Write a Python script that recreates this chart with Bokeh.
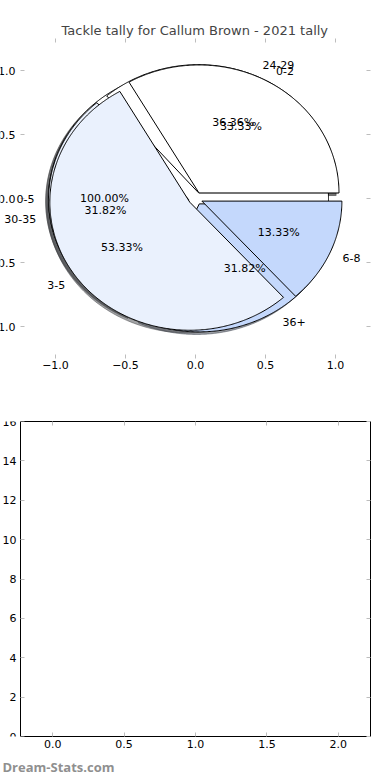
import numpy as np
from bokeh.plotting import figure
from bokeh.models import (ColumnDataSource, LinearAxis, Range1d, FixedTicker, Title,
                          CustomJSTickFormatter, Label)
from bokeh.layouts import column
from bokeh.embed import file_html
from bokeh.resources import INLINE

# ---------------- data ----------------
TITLE = "Tackle tally for Callum Brown - 2021 tally"
WATERMARK = "Dream-Stats.com"

# three pies drawn on the same axes (bottom to top)
pie_a_labels = ["0-5"]
pie_a_values = [1]
pie_b_labels = ["24-29", "30-35", "36+"]
pie_b_values = [8, 7, 7]
pie_c_labels = ["0-2", "3-5", "6-8"]
pie_c_values = [5, 8, 2]

wedge_colors = ["#ffffff", "#eaf1fd", "#c4d8fc"]
explode = 0.05

pie_ticks = [-1.0, -0.5, 0.0, 0.5, 1.0]
pie_tick_labels = ["\u22121.0", "\u22120.5", "0.0", "0.5", "1.0"]

bar_xticks = [0.0, 0.5, 1.0, 1.5, 2.0]
bar_xtick_labels = ["0.0", "0.5", "1.0", "1.5", "2.0"]
bar_yticks = [0, 2, 4, 6, 8, 10, 12, 14, 16]
bar_ytick_labels = ["0", "2", "4", "6", "8", "10", "12", "14", "16"]
bar_xlim = (-0.225, 2.225)
bar_ylim = (0, 16)

FONT = "DejaVu Sans"
TICK_GRAY = "#bdbdbd"


def hex_rgb(h):
    h = h.lstrip("#")
    return tuple(int(h[i:i + 2], 16) for i in (0, 2, 4))


def pie_parts(values, labels):
    v = np.asarray(values, dtype=float)
    frac = v / v.sum()
    edges = np.concatenate([[0.0], np.cumsum(frac)]) * 360.0
    out = dict(xs=[], ys=[], color=[], shadow=[],
               lx=[], ly=[], lt=[], la=[], px=[], py=[], pt=[])
    for i, lab in enumerate(labels):
        a0, a1 = edges[i], edges[i + 1]
        mid = np.deg2rad(0.5 * (a0 + a1))
        cx, cy = explode * np.cos(mid), explode * np.sin(mid)
        t = np.deg2rad(np.linspace(a0, a1, int(max(2 * (a1 - a0), 8)) + 1))
        wx, wy = cx + np.cos(t), cy + np.sin(t)
        if frac[i] < 0.9999:
            wx = np.concatenate([[cx], wx, [cx]])
            wy = np.concatenate([[cy], wy, [cy]])
        col = wedge_colors[i % len(wedge_colors)]
        r, g, b = hex_rgb(col)
        out["xs"].append(list(wx))
        out["ys"].append(list(wy))
        out["color"].append(col)
        out["shadow"].append("#%02x%02x%02x" % (int(0.3 * r), int(0.3 * g), int(0.3 * b)))
        lx = cx + 1.1 * np.cos(mid)
        ly = cy + 1.1 * np.sin(mid)
        out["lx"].append(float(lx))
        out["ly"].append(float(ly))
        out["lt"].append(lab)
        out["la"].append("left" if lx > 0 else "right")
        out["px"].append(float(cx + 0.6 * np.cos(mid)))
        out["py"].append(float(cy + 0.6 * np.sin(mid)))
        out["pt"].append("%.2f%%" % (100 * frac[i]))
    return out


pies = [pie_parts(pie_a_values, pie_a_labels),
        pie_parts(pie_b_values, pie_b_labels),
        pie_parts(pie_c_values, pie_c_labels)]

BL, BR = 40, 10
FW = 350
EXTRA = 20          # px of frame extended to the left so outer labels are not clipped
PX_PER_UNIT = 140.0


def style_axis(ax, ticks, labels=None, hide_labels=False):
    ax.ticker = FixedTicker(ticks=ticks)
    ax.minor_tick_line_color = None
    ax.major_tick_in = 4
    ax.major_tick_out = 0
    ax.major_tick_line_color = TICK_GRAY
    ax.major_label_text_font = FONT
    ax.major_label_text_font_size = "11px"
    ax.major_label_text_color = "#000000"
    if hide_labels:
        ax.formatter = CustomJSTickFormatter(code="return ''")
        ax.major_label_standoff = 0
    elif labels is not None:
        ax.major_label_overrides = {tk: lb for tk, lb in zip(ticks, labels)}


# ---------------- top: pies ----------------
x_lo = -1.25 - EXTRA / PX_PER_UNIT
p1 = figure(width=BL + EXTRA + FW + BR, height=30 + 320 + 32,
            x_range=Range1d(x_lo, 1.25), y_range=Range1d(-1.25, 1.25),
            output_backend="svg", toolbar_location=None,
            min_border_left=BL, min_border_right=BR,
            min_border_top=30, min_border_bottom=32)
p1.title.text = TITLE
p1.title.align = "left"
p1.title.offset = 61
p1.title.text_font = FONT
p1.title.text_font_size = "13px"
p1.title.text_font_style = "normal"
p1.title.standoff = 2
p1.outline_line_color = None
p1.grid.visible = False
p1.background_fill_color = "white"
p1.border_fill_color = "white"

p1.add_layout(LinearAxis(), "right")
p1.add_layout(LinearAxis(), "above")
for ax in p1.xaxis:
    style_axis(ax, pie_ticks, pie_tick_labels, hide_labels=(ax in p1.above))
    ax.axis_line_color = None
    ax.major_label_standoff = 2 if ax in p1.below else 0
for ax in p1.yaxis:
    style_axis(ax, pie_ticks, pie_tick_labels, hide_labels=(ax in p1.right))
    ax.axis_line_color = None
    ax.major_label_standoff = 5 if ax in p1.left else 0
p1.left[0].fixed_location = -1.25

# shadows (all beneath every wedge)
for pp in pies:
    src = ColumnDataSource(dict(xs=[list(np.array(x) - 0.02) for x in pp["xs"]],
                                ys=[list(np.array(y) - 0.02) for y in pp["ys"]],
                                shadow=pp["shadow"]))
    p1.patches("xs", "ys", source=src, fill_color="shadow", line_color="shadow",
               fill_alpha=0.5, line_alpha=0.5, line_width=1)

# wedges
for pp in pies:
    src = ColumnDataSource(dict(xs=pp["xs"], ys=pp["ys"], color=pp["color"]))
    p1.patches("xs", "ys", source=src, fill_color="color", line_color="black",
               line_width=1)

# texts
for pp in pies:
    for i in range(len(pp["lt"])):
        p1.add_layout(Label(x=pp["lx"][i], y=pp["ly"][i], text=pp["lt"][i],
                            text_align=pp["la"][i], text_baseline="middle",
                            text_font=FONT, text_font_size="11px",
                            text_color="black"))
        p1.add_layout(Label(x=pp["px"][i], y=pp["py"][i], text=pp["pt"][i],
                            text_align="center", text_baseline="middle",
                            text_font=FONT, text_font_size="11px",
                            text_color="black"))

# ---------------- bottom: empty axes ----------------
px2 = FW / (bar_xlim[1] - bar_xlim[0])
x_lo2 = bar_xlim[0] - EXTRA / px2
p2 = figure(width=BL + EXTRA + FW + BR, height=31 + 319 + 40,
            x_range=Range1d(x_lo2, bar_xlim[1]), y_range=Range1d(*bar_ylim),
            output_backend="svg", toolbar_location=None,
            min_border_left=BL, min_border_right=BR,
            min_border_top=31, min_border_bottom=40)
p2.outline_line_color = None
p2.grid.visible = False
p2.add_layout(LinearAxis(), "right")
p2.add_layout(LinearAxis(), "above")
for ax in p2.xaxis:
    style_axis(ax, bar_xticks, bar_xtick_labels, hide_labels=(ax in p2.above))
    ax.axis_line_color = "black"
    ax.axis_line_width = 1
    ax.bounds = bar_xlim
    ax.major_label_standoff = 3 if ax in p2.below else 0
for ax in p2.yaxis:
    style_axis(ax, bar_yticks, bar_ytick_labels, hide_labels=(ax in p2.right))
    ax.axis_line_color = "black"
    ax.axis_line_width = 1
    ax.major_label_standoff = 4 if ax in p2.left else 0
p2.left[0].fixed_location = bar_xlim[0]

wm = Title(text=WATERMARK, align="left", text_color="#8f8f8f",
           text_font="Open Sans", text_font_size="13px", text_font_style="bold",
           offset=2, standoff=10)
p2.add_layout(wm, "below")

layout = column(p1, p2, styles={"margin-left": "-%dpx" % BL, "margin-top": "8px",
                                "margin-bottom": "-10px"})

open("out.html", "w").write(file_html(layout, INLINE))
